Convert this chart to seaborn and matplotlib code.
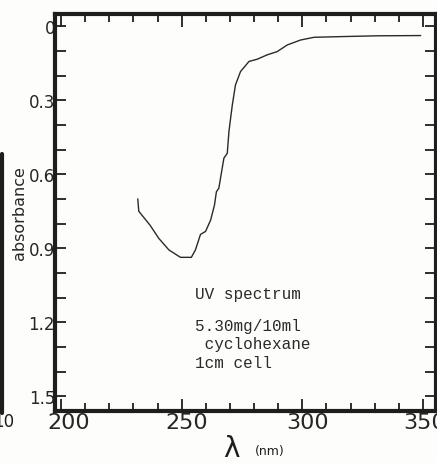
import numpy as np
import matplotlib
matplotlib.use("Agg")
import matplotlib.pyplot as plt
import matplotlib.transforms as mtransforms
from matplotlib.lines import Line2D
import pandas as pd
import seaborn as sns

# values
wavelength = [231.8, 232.2, 236.9, 240.5, 244.7, 249.5, 254.0, 255.7, 257.8, 259.9,
              262.0, 263.6, 264.4, 265.4, 267.5, 268.9, 269.6, 271.0, 272.3, 274.4,
              277.9, 281.3, 285.5, 289.6, 293.8, 299.3, 304.9, 317.3, 331.1, 349.1]
absorbance = [0.700, 0.750, 0.807, 0.860, 0.907, 0.937, 0.937, 0.907, 0.844, 0.832,
              0.786, 0.725, 0.671, 0.657, 0.535, 0.515, 0.426, 0.319, 0.238, 0.184,
              0.143, 0.134, 0.116, 0.103, 0.076, 0.056, 0.045, 0.042, 0.039, 0.038]
x_ticks = [200, 250, 300, 350]
y_ticks = [0, 0.3, 0.6, 0.9, 1.2, 1.5]
y_labels = ["0", "0.3", "0.6", "0.9", "1.2", "1.5"]
note_lines = ["UV spectrum", "5.30mg/10ml", " cyclohexane", "1cm cell"]

df = pd.DataFrame({"nm": wavelength, "abs": absorbance})

sns.set_style("ticks")
plt.rcParams["font.family"] = ["DejaVu Sans"]

fig = plt.figure(figsize=(4.37, 4.64), dpi=100, facecolor="#fdfdfb")
ax = fig.add_axes([0.126, 0.112, 0.872, 0.856])
ax.set_facecolor("#fdfdfb")

sns.lineplot(data=df, x="nm", y="abs", ax=ax, color="#2a2a2a", linewidth=1.0,
             estimator=None, sort=False)

ax.set_xlim(197.5, 355.5)
ax.set_ylim(1.56, -0.05)

ax.set_xticks(x_ticks)
ax.set_xticks(np.arange(200, 360, 10), minor=True)
ax.set_yticks(y_ticks)
ax.set_yticklabels(y_labels)
ax.set_yticks(np.arange(0, 1.55, 0.1), minor=True)

for s in ax.spines.values():
    s.set_linewidth(3.0)
    s.set_color("#1e1e1e")

ax.tick_params(axis="both", which="both", direction="in", top=True, right=True,
               color="#1e1e1e", width=1.3)
ax.tick_params(axis="x", which="major", length=9, labelsize=16, pad=1)
ax.tick_params(axis="x", which="minor", length=6)
ax.tick_params(axis="y", which="major", length=8, labelsize=12, pad=0)
ax.tick_params(axis="y", which="minor", length=8)

# labels sit a little right of their ticks in the scan
offsets = [8, 5, 5, 2]
for lab, dx in zip(ax.get_xticklabels(), offsets):
    off = mtransforms.ScaledTranslation(dx / 100, 0, fig.dpi_scale_trans)
    lab.set_transform(lab.get_transform() + off)

ax.set_xlabel("")
ax.set_ylabel("absorbance", fontsize=11.5)
ax.yaxis.set_label_coords(-0.073, 0.5)

fig.text(0.53, 0.032, "λ", fontsize=20, ha="center", va="center", color="#1e1e1e")
fig.text(0.583, 0.026, "(nm)", fontsize=9, ha="left", va="center", color="#1e1e1e")

ys = [295, 327, 344, 364]
for t, yp in zip(note_lines, ys):
    fig.text(195 / 437, 1 - yp / 464, t, family="Liberation Mono", fontsize=11.5,
             ha="left", va="center", color="#2a2a2a")

# edge of the neighbouring figure on the scanned page
fig.add_artist(Line2D([2 / 437, 2 / 437], [1 - 155 / 464, 1 - 414 / 464],
                      transform=fig.transFigure, color="#1e1e1e", linewidth=3))
fig.text(-0.015, 1 - 422 / 464, "10", fontsize=12, ha="left", va="center", color="#1e1e1e")

fig.savefig("out.png", dpi=100, facecolor=fig.get_facecolor())
